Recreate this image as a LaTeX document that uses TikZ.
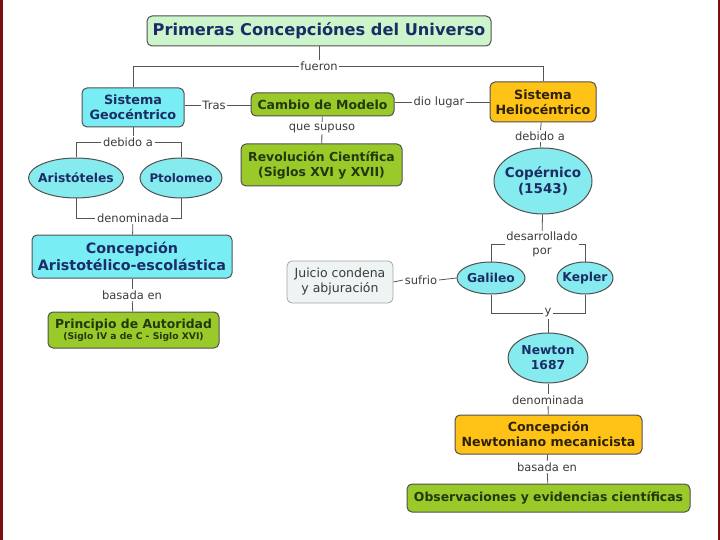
\documentclass[tikz,border=0pt]{standalone}
\usepackage{fontspec}
\setmainfont{DejaVu Sans}
\usetikzlibrary{shapes.geometric}
\definecolor{frame}{HTML}{7A0E10}
\definecolor{edge}{HTML}{505050}
\definecolor{linec}{HTML}{555555}
\definecolor{labtext}{HTML}{3C3C3C}
\definecolor{titlefill}{HTML}{CCF5CC}
\definecolor{navy}{HTML}{1C2C66}
\definecolor{cyanfill}{HTML}{78EEF4}
\definecolor{ellfill}{HTML}{86EBEE}
\definecolor{greenfill}{HTML}{9AC92A}
\definecolor{greentext}{HTML}{23380C}
\definecolor{orangefill}{HTML}{FFC217}
\definecolor{orangetext}{HTML}{2E2206}
\definecolor{grayfill}{HTML}{EEF3F3}
\definecolor{graytext}{HTML}{3A3A3A}
\begin{document}
\begin{tikzpicture}[x=1pt,y=-1pt,
  box/.style={draw=edge, line width=1pt, rounded corners=5pt, align=center, inner sep=0pt, font=\bfseries},
  titlebox/.style={box, fill=titlefill, text=navy, font=\fontsize{16.2}{19}\bfseries\selectfont},
  cyanbox/.style={box, fill=cyanfill, text=navy},
  greenbox/.style={box, fill=greenfill, text=greentext},
  orangebox/.style={box, fill=orangefill, text=orangetext},
  graybox/.style={draw=gray!70, line width=0.8pt, rounded corners=5pt, align=center, inner sep=0pt, fill=grayfill, text=graytext, font=\fontsize{12.5}{15}\selectfont},
  ell/.style={ellipse, draw=edge, line width=1pt, fill=ellfill, text=navy, align=center, inner xsep=-9pt, inner ysep=-4pt, font=\fontsize{12.3}{15}\bfseries\selectfont},
  lab/.style={font=\fontsize{11.5}{13.5}\selectfont, text=labtext, fill=white, inner sep=1.5pt, align=center},
  conn/.style={draw=linec, line width=0.8pt}]
\useasboundingbox (0,0) rectangle (720,540);
\fill[white] (0,0) rectangle (720,540);
\fill[frame] (0,0) rectangle (2.5,540);
\fill[frame] (717.5,0) rectangle (720,540);

% nodes
\node[titlebox, minimum width=344pt, minimum height=30pt] (title) at (319,31) {Primeras Concepciónes del Universo};
\node[lab] (fueron) at (319,66) {fueron};
\node[cyanbox, minimum width=102pt, minimum height=39pt, font=\fontsize{12.8}{15}\bfseries\selectfont] (geo) at (133,107.5) {Sistema\\Geocéntrico};
\node[lab] (tras) at (214,105.5) {Tras};
\node[greenbox, minimum width=143pt, minimum height=23pt, font=\fontsize{12.5}{15}\bfseries\selectfont] (cambio) at (322.5,104.5) {Cambio de Modelo};
\node[lab] (dio) at (439,102.5) {dio lugar};
\node[orangebox, minimum width=106pt, minimum height=40pt, font=\fontsize{12.7}{15}\bfseries\selectfont] (helio) at (543,102) {Sistema\\Heliocéntrico};
\node[lab] (supuso) at (322,128) {que supuso};
\node[greenbox, minimum width=161pt, minimum height=42pt, font=\fontsize{12.4}{15}\bfseries\selectfont] (revol) at (321.5,165) {Revolución Científica\\(Siglos XVI y XVII)};
\node[lab] (debidoH) at (540,136) {debido a};
\node[ell, minimum width=98pt, minimum height=66pt, font=\fontsize{13.5}{16}\bfseries\selectfont] (coper) at (543,181) {Copérnico\\(1543)};
\node[lab] (debidoG) at (128,142) {debido a};
\node[ell, minimum width=95pt, minimum height=40pt] (aris) at (76,178) {Aristóteles};
\node[ell, minimum width=82pt, minimum height=40pt, font=\fontsize{11.8}{14}\bfseries\selectfont] (ptol) at (181,178) {Ptolomeo};
\node[lab] (denomG) at (133,218) {denominada};
\node[cyanbox, minimum width=200pt, minimum height=43pt, font=\fontsize{14.3}{17}\bfseries\selectfont] (concA) at (132,256.5) {Concepción\\Aristotélico-escolástica};
\node[lab] (basadaA) at (132,295) {basada en};
\node[greenbox, minimum width=171pt, minimum height=36pt] (princ) at (133.5,330) {{\fontsize{12.4}{14}\selectfont Principio de Autoridad}\\[-1pt]{\fontsize{9.2}{10}\selectfont (Siglo IV a de C - Siglo XVI)}};
\node[graybox, minimum width=106pt, minimum height=42pt] (juicio) at (340,282) {Juicio condena\\y abjuración};
\node[lab] (sufrio) at (421,280) {sufrio};
\node[ell, minimum width=68pt, minimum height=32pt] (gali) at (491,278) {Galileo};
\node[ell, minimum width=56pt, minimum height=32pt] (kep) at (585,278) {Kepler};
\node[lab, inner sep=1pt] (desarr) at (542,244.5) {desarrollado\\por};
\node[lab] (ylab) at (548,313) {y};
\node[ell, minimum width=80pt, minimum height=50pt] (newton) at (548,358) {Newton\\1687};
\node[lab] (denomN) at (548,400) {denominada};
\node[orangebox, minimum width=187pt, minimum height=39pt, font=\fontsize{12.6}{15}\bfseries\selectfont] (concN) at (548.5,434.5) {Concepción\\Newtoniano mecanicista};
\node[lab] (basadaN) at (547,467) {basada en};
\node[greenbox, minimum width=283pt, minimum height=28pt, font=\fontsize{12.4}{15}\bfseries\selectfont] (obs) at (548.5,498) {Observaciones y evidencias científicas};

% connectors
\draw[conn] (title) -- (fueron);
\draw[conn] (fueron.west) -| (geo.north);
\draw[conn] (fueron.east) -| (helio.north);
\draw[conn] (tras.west -| geo.east) -- (tras.west);
\draw[conn] (tras.east) -- (tras.east -| cambio.west);
\draw[conn] (dio.west -| cambio.east) -- (dio.west);
\draw[conn] (dio.east) -- (dio.east -| helio.west);
\draw[conn] (cambio) -- (supuso);
\draw[conn] (supuso) -- (revol);
\draw[conn] (helio) -- (debidoH);
\draw[conn] (debidoH) -- (coper);
\draw[conn] (geo.south) -- (geo.south |- debidoG.north);
\draw[conn] (debidoG.west) -| (aris.north);
\draw[conn] (debidoG.east) -| (ptol.north);
\draw[conn] (aris.south) |- (denomG.west);
\draw[conn] (ptol.south) |- (denomG.east);
\draw[conn] (denomG) -- (concA);
\draw[conn] (concA) -- (basadaA);
\draw[conn] (basadaA) -- (princ);
\draw[conn] (juicio.east) -- (sufrio.west);
\draw[conn] (sufrio.east) -- (gali.west);
\draw[conn] (coper) -- (desarr);
\draw[conn] (desarr.west) -| (gali.north);
\draw[conn] (desarr.east) -| (kep.north);
\draw[conn] (gali.south) |- (ylab.west);
\draw[conn] (kep.south) |- (ylab.east);
\draw[conn] (ylab) -- (newton);
\draw[conn] (newton) -- (denomN);
\draw[conn] (denomN) -- (concN);
\draw[conn] (concN) -- (basadaN);
\draw[conn] (basadaN) -- (obs);
\end{tikzpicture}
\end{document}
